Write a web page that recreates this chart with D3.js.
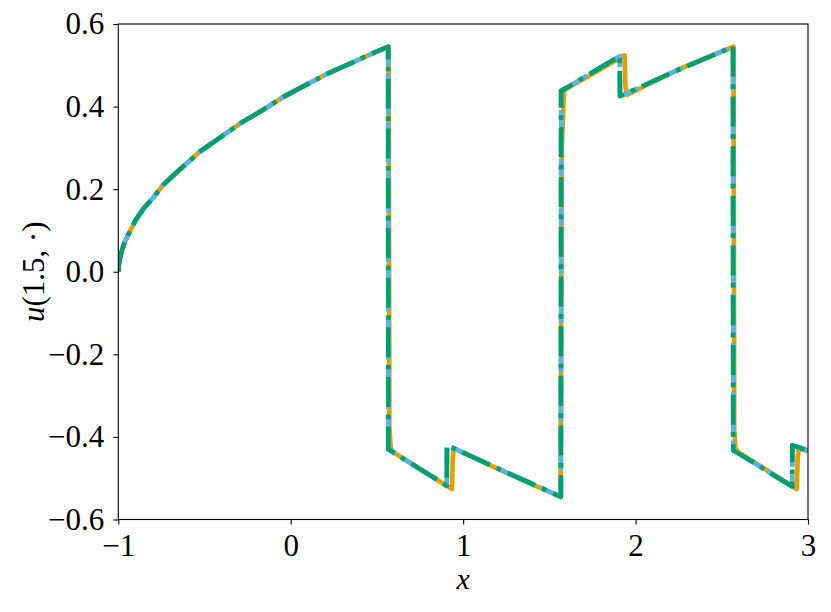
<!DOCTYPE html>
<meta charset="utf-8">
<style>
  body { margin: 0; background: #fff; }
  text { font-family: "Liberation Serif", "DejaVu Serif", serif; fill: #000; }
  .axis path, .axis line { stroke: #000; stroke-width: 1.1px; }
  .axis text { font-size: 31px; font-family: "Liberation Serif", serif; }
  .line { fill: none; stroke-width: 4.7px; stroke-linejoin: round; }
</style>
<body>
<div id="chart"></div>
<script src="https://d3js.org/d3.v7.min.js"></script>
<script>

// rarefaction part (shared by the three schemes)
var rarX = [-1, -0.995, -0.98, -0.96, -0.93, -0.9, -0.85, -0.8, -0.74, -0.65, -0.53, -0.4, -0.29, -0.15, -0.04, 0.1, 0.21, 0.35, 0.48];
var rarU = [0, 0.025, 0.05, 0.075, 0.1, 0.125, 0.155, 0.178, 0.21, 0.245, 0.29, 0.328, 0.36, 0.395, 0.424, 0.455, 0.479, 0.505, 0.53];

// scheme 1 (orange, solid)
var orangeX = [0.568, 0.572, 0.58, 0.595,
               0.935, 0.94, 0.947, 1.236, 1.565, 1.572, 1.585, 1.595,
               1.936, 1.941, 1.95, 2.237, 2.568, 2.572, 2.58, 2.595, 2.935, 2.94, 2.947, 3.0];
var orangeU = [0.545, -0.38, -0.428, -0.437,
               -0.526, -0.45, -0.428, -0.484, -0.545, 0.3, 0.437, 0.442,
               0.524, 0.45, 0.428, 0.488, 0.545, -0.38, -0.428, -0.437, -0.526, -0.45, -0.428, -0.434];

// scheme 2 (sky blue, dashed)
var blueX = [0.565, 0.567, 0.905, 0.907,
             1.236, 1.567, 1.569, 1.908, 1.91, 2.237, 2.565, 2.567, 2.908, 2.91, 3.0];
var blueU = [0.545, -0.43, -0.518, -0.42,
             -0.483, -0.545, 0.438, 0.522, 0.425, 0.487, 0.545, -0.432, -0.52, -0.42, -0.433];

// scheme 3 (green, dash-dot)
var greenX = [0.565, 0.566, 0.905, 0.906,
              1.236, 1.567, 1.568, 1.908, 1.909, 2.237, 2.565, 2.566, 2.908, 2.909, 3.0];
var greenU = [0.545, -0.43, -0.518, -0.42,
              -0.483, -0.545, 0.438, 0.522, 0.425, 0.487, 0.545, -0.432, -0.52, -0.42, -0.433];

var xTicks = [-1, 0, 1, 2, 3];
var yTicks = [-0.6, -0.4, -0.2, 0.0, 0.2, 0.4, 0.6];

var margin = {top: 24, right: 23, bottom: 92.5, left: 118.3},
    width = 831 - margin.left - margin.right,
    height = 612 - margin.top - margin.bottom;

var svg = d3.select("#chart")
  .append("svg")
    .attr("width", 831)
    .attr("height", 612)
  .append("g")
    .attr("transform", "translate(" + margin.left + "," + margin.top + ")");

var x = d3.scaleLinear().domain([-1, 3]).range([0, width]);
var y = d3.scaleLinear().domain([-0.6, 0.6]).range([height, 0]);

svg.append("clipPath").attr("id", "clip")
  .append("rect").attr("width", width).attr("height", height);

var line = d3.line()
  .x(function(d) { return x(d[0]); })
  .y(function(d) { return y(d[1]); });

function zip(xs, us) {
  return rarX.map(function(v, i) { return [v, rarU[i]]; })
    .concat(xs.map(function(v, i) { return [v, us[i]]; }));
}

var plot = svg.append("g").attr("clip-path", "url(#clip)");

plot.append("path")
  .datum(zip(orangeX, orangeU))
  .attr("class", "line")
  .attr("stroke", "#E69F00")
  .attr("d", line);

plot.append("path")
  .datum(zip(blueX, blueU))
  .attr("class", "line")
  .attr("stroke", "#56B4E9")
  .attr("stroke-dasharray", "17 7.5")
  .attr("d", line);

plot.append("path")
  .datum(zip(greenX, greenU))
  .attr("class", "line")
  .attr("stroke", "#009E73")
  .attr("stroke-dasharray", "30 7.5 4.7 7.5")
  .attr("d", line);

// frame
svg.append("rect")
  .attr("width", width).attr("height", height)
  .attr("fill", "none").attr("stroke", "#000").attr("stroke-width", 1.1);

function fmt(s) { return s.replace("-", "\u2212"); }

var xAxis = svg.append("g")
  .attr("class", "axis")
  .attr("transform", "translate(0," + height + ")")
  .call(d3.axisBottom(x).tickValues(xTicks).tickSize(5).tickPadding(4)
    .tickFormat(function(d) { return fmt(String(d)); }));
xAxis.select(".domain").remove();
xAxis.selectAll("text").attr("dy", "0.9em");

var yAxis = svg.append("g")
  .attr("class", "axis")
  .call(d3.axisLeft(y).tickValues(yTicks).tickSize(5).tickPadding(9)
    .tickFormat(function(d) { return fmt(d3.format(".1f")(Math.abs(d) < 1e-9 ? 0 : d)); }));
yAxis.select(".domain").remove();

svg.append("text")
  .attr("x", x(1))
  .attr("y", height + 69)
  .attr("text-anchor", "middle")
  .style("font-size", "30px")
  .style("font-style", "italic")
  .text("x");

var yl = svg.append("text")
  .attr("transform", "translate(" + (44 - margin.left) + "," + (height / 2) + ") rotate(-90)")
  .attr("text-anchor", "middle")
  .style("font-size", "31px");
yl.append("tspan").style("font-style", "italic").text("u");
yl.append("tspan").text("(1.5, \u00b7)");

</script>
